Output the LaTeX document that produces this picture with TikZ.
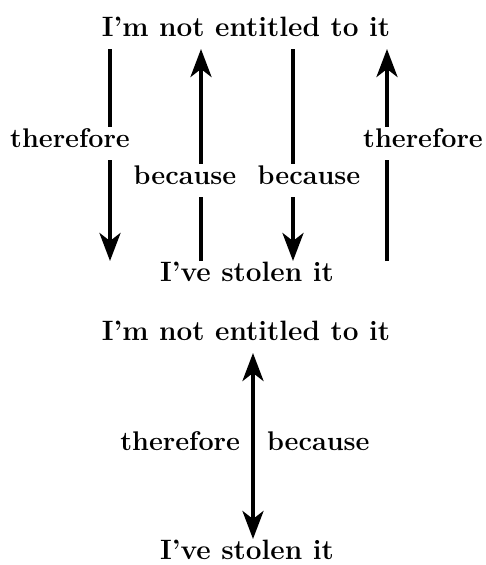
\documentclass[tikz,border=0pt]{standalone}
\usetikzlibrary{arrows.meta,positioning,calc}
\begin{document}
\begin{tikzpicture}[x=1pt,y=-1pt,line width=4pt,
  >={Stealth[length=28pt,width=21pt,inset=8pt]},
  claim/.style={font=\fontsize{28}{32}\selectfont\bfseries,anchor=base,
    text height=0.7em,text depth=0pt,inner xsep=0pt,inner ysep=11pt},
  word/.style={font=\fontsize{27}{31}\selectfont\bfseries,anchor=base,
    text height=0.75em,text depth=0pt,inner xsep=0pt,inner ysep=11pt}]
\useasboundingbox (0,0) rectangle (486,565);
% upper figure: four separate arrows
\node[claim] (top1) at (246,36) {I’m not entitled to it};
\node[claim] (bot1) at (247,281) {I’ve stolen it};
\coordinate (c1) at (110,0);
\coordinate (c2) at (201,0);
\coordinate (c3) at (293,0);
\coordinate (c4) at (387,0);
\node[word] (there1) at (70,147) {therefore};
\node[word] (bec1) at (185,184) {because};
\node[word] (bec2) at (309,184) {because};
\node[word] (there2) at (423,147) {therefore};
\draw (top1.south -| c1) -- (there1.north -| c1);
\draw[->] (there1.south -| c1) -- (bot1.north -| c1);
\draw[->] (bec1.north -| c2) -- (top1.south -| c2);
\draw (bot1.north -| c2) -- (bec1.south -| c2);
\draw (top1.south -| c3) -- (bec2.north -| c3);
\draw[->] (bec2.south -| c3) -- (bot1.north -| c3);
\draw[->] (there2.north -| c4) -- (top1.south -| c4);
\draw (bot1.north -| c4) -- (there2.south -| c4);
% lower figure: one double arrow
\node[claim] (top2) at (246,340) {I’m not entitled to it};
\node[claim,inner ysep=2pt] (bot2) at (247,559) {I’ve stolen it};
\coordinate (c5) at (253,0);
\node[word,anchor=base east] (there3) at (242,450) {therefore};
\node[word,anchor=base west] (bec3) at (265,450) {because};
\draw[<->] (top2.south -| c5) -- ($(bot2.north -| c5)+(0,-9)$);
\end{tikzpicture}
\end{document}
